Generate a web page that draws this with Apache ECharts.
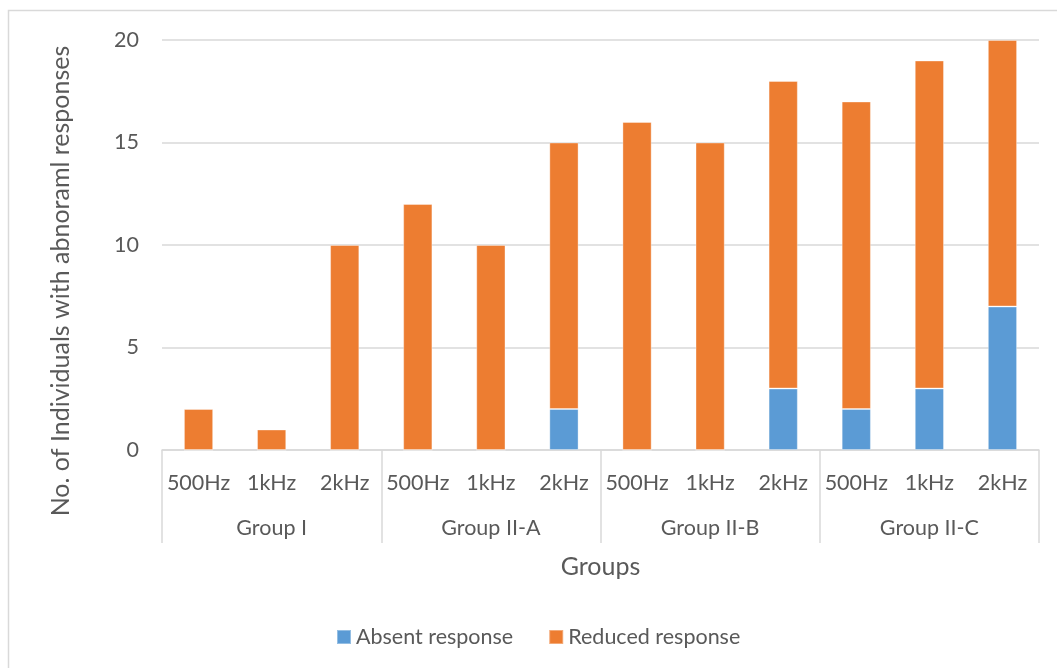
<!DOCTYPE html>
<html>
<head>
<meta charset="utf-8">
<script src="https://cdn.jsdelivr.net/npm/echarts@6/dist/echarts.min.js"></script>
<style>
  html, body { margin: 0; padding: 0; background: #fff; }
  #chart { width: 1057px; height: 668px; }
</style>
</head>
<body>
<div id="chart"></div>
<script>
// Frequencies within each group (inner axis level)
const frequencies = ['500Hz', '1kHz', '2kHz', '500Hz', '1kHz', '2kHz', '500Hz', '1kHz', '2kHz', '500Hz', '1kHz', '2kHz'];
// Groups (outer axis level)
const groups = ['Group I', 'Group II-A', 'Group II-B', 'Group II-C'];
// Stacked counts
const absentResponse  = [0, 0, 0, 0, 0, 2, 0, 0, 3, 2, 3, 7];
const reducedResponse = [2, 1, 10, 12, 10, 13, 16, 15, 15, 15, 16, 13];
const yTicks = { min: 0, max: 20, interval: 5 };
const yTitle = 'No. of Individuals with abnoraml responses';

const FONT = 'Lato, "Open Sans", sans-serif';
const TEXT = '#595959';
const LINE = '#d9d9d9';
const LABEL_SIZE = 21.5;
const TITLE_SIZE = 25;

const chart = echarts.init(document.getElementById('chart'));
chart.setOption({
  animation: false,
  backgroundColor: '#fff',
  textStyle: { fontFamily: FONT },
  graphic: [
    {
      type: 'rect',
      shape: { x: 8.5, y: 10.5, width: 1100, height: 700 },
      style: { fill: 'none', stroke: LINE, lineWidth: 1.5 },
      silent: true
    },
    {
      // vertical axis title
      type: 'text',
      x: 61,
      y: 281,
      rotation: Math.PI / 2,
      style: {
        text: yTitle,
        fill: TEXT,
        font: TITLE_SIZE + 'px ' + FONT,
        align: 'center',
        verticalAlign: 'middle'
      },
      silent: true
    }
  ],
  grid: { left: 162, right: 18, top: 40, bottom: 218, containLabel: false },
  legend: {
    top: 621,
    left: 331,
    itemWidth: 14,
    itemHeight: 14,
    itemGap: 35,
    icon: 'rect',
    textStyle: { color: TEXT, fontSize: LABEL_SIZE, fontFamily: FONT },
    data: ['Absent response', 'Reduced response']
  },
  xAxis: [
    {
      type: 'category',
      data: frequencies,
      position: 'bottom',
      axisLine: { show: true, lineStyle: { color: LINE, width: 1.5 } },
      axisTick: { show: false },
      axisLabel: { color: TEXT, fontSize: LABEL_SIZE, margin: 22, fontFamily: FONT, interval: 0 },
      name: 'Groups',
      nameLocation: 'middle',
      nameGap: 104,
      nameTextStyle: { color: TEXT, fontSize: TITLE_SIZE, fontFamily: FONT }
    },
    {
      type: 'category',
      data: groups,
      position: 'bottom',
      axisLine: { show: false },
      axisTick: { show: true, length: 93, lineStyle: { color: LINE, width: 1.5 }, alignWithLabel: false },
      axisLabel: { color: TEXT, fontSize: LABEL_SIZE, margin: 67, fontFamily: FONT, interval: 0 },
      splitLine: { show: false }
    }
  ],
  yAxis: {
    type: 'value',
    min: yTicks.min,
    max: yTicks.max,
    interval: yTicks.interval,
    axisLine: { show: false },
    axisTick: { show: false },
    axisLabel: { color: TEXT, fontSize: LABEL_SIZE, margin: 23, fontFamily: FONT },
    splitLine: { lineStyle: { color: LINE, width: 1.5 } }
  },
  series: [
    {
      name: 'Absent response',
      type: 'bar',
      stack: 'total',
      xAxisIndex: 0,
      barWidth: '40%',
      data: absentResponse,
      itemStyle: { color: '#5b9bd5', borderColor: 'rgba(255,255,255,0.35)', borderWidth: 1 }
    },
    {
      name: 'Reduced response',
      type: 'bar',
      stack: 'total',
      xAxisIndex: 0,
      barWidth: '40%',
      data: reducedResponse,
      itemStyle: { color: '#ed7d31', borderColor: 'rgba(255,255,255,0.35)', borderWidth: 1 }
    }
  ]
});
</script>
</body>
</html>
